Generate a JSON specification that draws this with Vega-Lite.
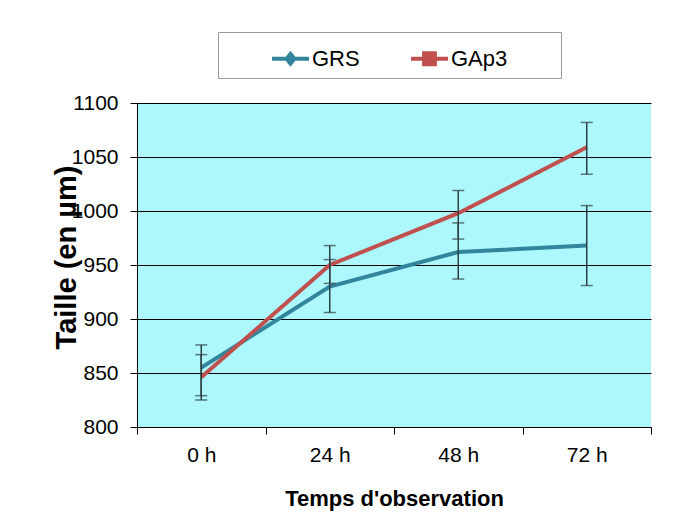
{
  "$schema": "https://vega.github.io/schema/vega-lite/v6.json",
  "autosize": {"type": "none"},
  "width": 514,
  "height": 324,
  "padding": {"left": 137, "top": 103, "right": 27, "bottom": 97},
  "background": "white",
  "config": {
    "font": "Liberation Sans",
    "view": {"fill": "#acf8fc", "stroke": null}
  },
  "data": {
    "values": [
      {"temps": "0 h", "serie": "GRS", "valeur": 855, "bas": 829, "haut": 867},
      {"temps": "24 h", "serie": "GRS", "valeur": 930, "bas": 906, "haut": 955},
      {"temps": "48 h", "serie": "GRS", "valeur": 962, "bas": 937, "haut": 989},
      {"temps": "72 h", "serie": "GRS", "valeur": 968, "bas": 931, "haut": 1005},
      {"temps": "0 h", "serie": "GAp3", "valeur": 846, "bas": 825, "haut": 876},
      {"temps": "24 h", "serie": "GAp3", "valeur": 950, "bas": 933, "haut": 968},
      {"temps": "48 h", "serie": "GAp3", "valeur": 998, "bas": 974, "haut": 1019},
      {"temps": "72 h", "serie": "GAp3", "valeur": 1059, "bas": 1034, "haut": 1082}
    ]
  },
  "encoding": {
    "x": {
      "field": "temps",
      "type": "nominal",
      "sort": ["0 h", "24 h", "48 h", "72 h"],
      "scale": {"paddingInner": 0, "paddingOuter": 0},
      "axis": {
        "title": "Temps d'observation",
        "labelAngle": 0,
        "tickBand": "extent",
        "tickSize": 7,
        "tickColor": "black",
        "domainColor": "black",
        "labelFontSize": 21,
        "labelPadding": 10,
        "labelColor": "black",
        "titleFontSize": 22,
        "titleFontWeight": "bold",
        "titleColor": "black",
        "titlePadding": 23,
        "grid": false
      }
    }
  },
  "layer": [
    {
      "transform": [{"filter": "datum.serie == 'GRS'"}],
      "mark": {"type": "line", "strokeWidth": 4, "color": "#31859c"},
      "encoding": {
        "y": {
          "field": "valeur",
          "type": "quantitative",
          "scale": {"domain": [800, 1100], "zero": false, "nice": false},
          "axis": {
            "title": "Taille (en µm)",
            "values": [800, 850, 900, 950, 1000, 1050, 1100],
            "format": "d",
            "grid": true,
            "gridColor": "black",
            "gridOpacity": 1,
            "gridWidth": 1,
            "domainColor": "black",
            "tickColor": "black",
            "tickSize": 7,
            "labelFontSize": 21,
            "labelPadding": 12,
            "labelColor": "black",
            "titleFontSize": 29,
            "titleFontWeight": "bold",
            "titleColor": "black",
            "titleX": -71,
            "titleY": 154,
            "titleBaseline": "middle"
          }
        }
      }
    },
    {
      "transform": [{"filter": "datum.serie == 'GAp3'"}],
      "mark": {"type": "line", "strokeWidth": 4, "color": "#c0504d"},
      "encoding": {"y": {"field": "valeur", "type": "quantitative"}}
    },
    {
      "mark": {"type": "rule", "color": "#2f3f42", "strokeWidth": 1.5},
      "encoding": {
        "y": {"field": "bas", "type": "quantitative"},
        "y2": {"field": "haut"}
      }
    },
    {
      "mark": {"type": "tick", "orient": "horizontal", "size": 12, "thickness": 1.5, "color": "#2f3f42"},
      "encoding": {"y": {"field": "bas", "type": "quantitative"}}
    },
    {
      "mark": {"type": "tick", "orient": "horizontal", "size": 12, "thickness": 1.5, "color": "#2f3f42"},
      "encoding": {"y": {"field": "haut", "type": "quantitative"}}
    },
    {
      "mark": {"type": "point", "filled": true, "opacity": 0},
      "encoding": {
        "y": {"field": "valeur", "type": "quantitative"},
        "color": {
          "field": "serie",
          "type": "nominal",
          "scale": {"domain": ["GRS", "GAp3"], "range": ["#31859c", "#c0504d"]},
          "legend": {
            "orient": "none",
            "legendX": 81,
            "legendY": -71,
            "direction": "horizontal",
            "title": " ",
            "titleOrient": "right",
            "titlePadding": 46,
            "titleFontSize": 10,
            "strokeColor": "#999999",
            "fillColor": "white",
            "padding": 8,
            "symbolOffset": 46,
            "columnPadding": 5,
            "labelFontSize": 22,
            "labelColor": "black",
            "labelOffset": 3,
            "symbolSize": 1369,
            "symbolStrokeWidth": 0,
            "encode": {
              "symbols": {"update": {"opacity": {"value": 1}}}
            }
          }
        },
        "shape": {
          "field": "serie",
          "type": "nominal",
          "scale": {
            "domain": ["GRS", "GAp3"],
            "range": [
              "M-1,-0.11L1,-0.11L1,0.11L-1,0.11ZM0,-0.43L0.35,0L0,0.43L-0.35,0Z",
              "M-1,-0.11L1,-0.11L1,0.11L-1,0.11ZM-0.4,-0.4L0.4,-0.4L0.4,0.4L-0.4,0.4Z"
            ]
          },
          "legend": {
            "orient": "none",
            "legendX": 81,
            "legendY": -71,
            "direction": "horizontal",
            "title": " ",
            "titleOrient": "right",
            "titlePadding": 46,
            "titleFontSize": 10,
            "strokeColor": "#999999",
            "fillColor": "white",
            "padding": 8,
            "symbolOffset": 46,
            "columnPadding": 5,
            "labelFontSize": 22,
            "labelColor": "black",
            "labelOffset": 3,
            "symbolSize": 1369,
            "symbolStrokeWidth": 0,
            "encode": {
              "symbols": {"update": {"opacity": {"value": 1}}}
            }
          }
        }
      }
    }
  ]
}
